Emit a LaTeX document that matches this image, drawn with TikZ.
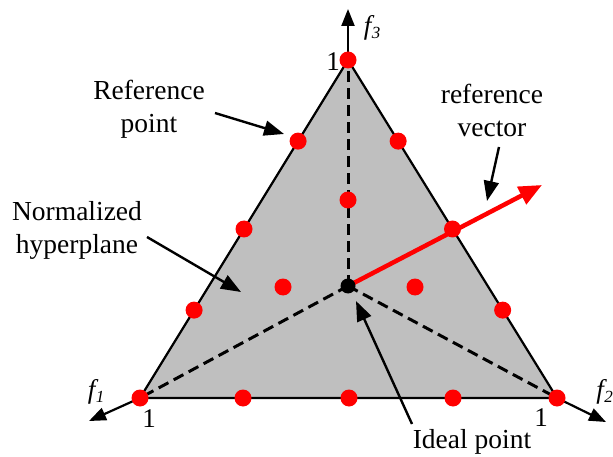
\documentclass[tikz,border=0pt]{standalone}
\usepackage{fontspec}
\setmainfont{Liberation Serif}
\usetikzlibrary{arrows.meta,calc}
\newcommand{\axlab}[1]{{\fontsize{27}{30}\selectfont\itshape f\kern0.5pt\raisebox{-0.28ex}{\fontsize{17}{18}\selectfont #1}}}
\begin{document}
\begin{tikzpicture}[x=1pt,y=-1pt,
  edge/.style={line width=2.2pt,black},
  axis/.style={line width=2.2pt,black,-{Triangle[length=17pt,width=13pt]}},
  dashline/.style={line width=3pt,black,dash pattern=on 11pt off 6pt},
  pointer/.style={line width=2.4pt,black,-{Triangle[length=20pt,width=15pt]}},
  refvec/.style={line width=4.5pt,red,-{Triangle[length=23pt,width=19pt]}},
  rdot/.style={circle,fill=red,inner sep=0pt,minimum size=17pt},
  bdot/.style={circle,fill=black,inner sep=0pt,minimum size=15pt},
  lab/.style={font=\fontsize{27.5}{33}\selectfont,align=center,inner sep=0pt},
  num/.style={font=\fontsize{27}{30}\selectfont,inner sep=0pt}]
\useasboundingbox (0,0) rectangle (613,457);
% vertices
\coordinate (T) at (348,60);
\coordinate (L) at (140,398);
\coordinate (R) at (557,398);
\coordinate (C) at (348,286);
% axis ends
\coordinate (f3end) at (348,9);
\coordinate (f1end) at (89,421);
\coordinate (f2end) at (606,422);
% triangle
\fill[fill=black!25] (T) -- (L) -- (R) -- cycle;
\draw[edge] (T) -- (L) -- (R) -- cycle;
% dashed lines
\draw[dashline] (C) -- (T);
\draw[dashline] (C) -- (L);
\draw[dashline] (C) -- (R);
% axes
\draw[axis] (T) -- (f3end);
\draw[axis] (L) -- (f1end);
\draw[axis] (R) -- (f2end);
% axis labels
\node[inner sep=0pt] (lf3) at (372,28) {\axlab{3}};
\node[inner sep=0pt] (lf1) at (96,392) {\axlab{1}};
\node[inner sep=0pt,anchor=east] (lf2) at (613,392) {\axlab{2}};
\node[num] (n3) at (333,62) {1};
\node[num] (n1) at (149,419) {1};
\node[num] (n2) at (541,418) {1};
% reference vector
\coordinate (vtip) at (542,185);
\draw[refvec] (C) -- (vtip);
% ideal point
\node[bdot] (ideal) at (C) {};
% red dots
\node[rdot] (d0) at (T) {};
\node[rdot] (d1) at ($(T)!0.24!(L)$) {};
\node[rdot] (d2) at ($(T)!0.5!(L)$) {};
\node[rdot] (d3) at ($(T)!0.74!(L)$) {};
\node[rdot] (d4) at (L) {};
\node[rdot] (d5) at ($(T)!0.24!(R)$) {};
\node[rdot] (d6) at ($(T)!0.5!(R)$) {};
\node[rdot] (d7) at ($(T)!0.74!(R)$) {};
\node[rdot] (d8) at (R) {};
\node[rdot] (d9) at (243,398) {};
\node[rdot] (d10) at (349,398) {};
\node[rdot] (d11) at (453,398) {};
\node[rdot] (d12) at (348,200) {};
\node[rdot] (d13) at (283,287) {};
\node[rdot] (d14) at (415,287) {};
% labels
\node[lab] (refpt) at (149,109) {Reference\\point};
\node[lab] (refv) at (492,110) {reference\\vector};
\node[lab] (hyp) at (77,230) {Normalized\\hyperplane};
\node[lab] (idl) at (472,442) {Ideal point};
% pointer arrows
\coordinate (p1s) at (215,113);
\coordinate (p1e) at (284,134);
\draw[pointer] (p1s) -- (p1e);
\coordinate (p2s) at (499,147);
\coordinate (p2e) at (487,201);
\draw[pointer] (p2s) -- (p2e);
\coordinate (p3s) at (147,237);
\coordinate (p3e) at (241,292);
\draw[pointer] (p3s) -- (p3e);
\coordinate (p4s) at (412,424);
\coordinate (p4e) at (356,301);
\draw[pointer] (p4s) -- (p4e);
\end{tikzpicture}
\end{document}
